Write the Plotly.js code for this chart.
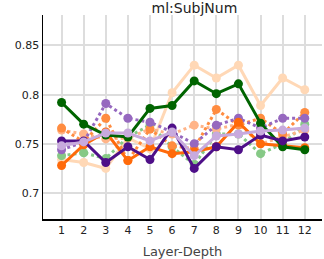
<!DOCTYPE html>
<html><head><meta charset="utf-8">
<script src="https://cdn.plot.ly/plotly-3.0.1.min.js"></script>
<style>html,body{margin:0;padding:0;background:#fff}#c{width:324px;height:259px}</style>
</head><body><div id="c"></div>
<script>
const layers = [1,2,3,4,5,6,7,8,9,10,11,12];
const tickLabels = ["1","2","3","4","5","6","7","8","9","10","11","12"];
const darkGreen   = [0.792,0.770,0.759,0.757,0.786,0.789,0.814,0.801,0.811,0.771,0.747,0.744];
const lightGreen  = [0.738,0.741,0.735,0.757,0.769,0.747,0.729,0.760,0.760,0.740,0.750,0.770];
const darkOrange  = [0.728,0.749,0.762,0.733,0.747,0.740,0.742,0.747,0.772,0.750,0.748,0.746];
const orangeDot   = [0.766,0.752,0.776,0.733,0.765,0.748,0.745,0.785,0.769,0.776,0.760,0.782];
const peachDot    = [0.764,0.760,0.755,0.756,0.765,0.760,0.769,0.765,0.770,0.750,0.757,0.764];
const peach       = [0.734,0.731,0.725,0.756,0.745,0.802,0.830,0.817,0.830,0.789,0.817,0.805];
const purpleDot   = [0.744,0.752,0.791,0.776,0.772,0.762,0.750,0.769,0.776,0.766,0.776,0.776];
const darkPurple  = [0.753,0.753,0.731,0.747,0.734,0.766,0.725,0.747,0.744,0.759,0.753,0.757];
const lightPurple = [0.748,0.752,0.761,0.761,0.753,0.762,0.738,0.758,0.760,0.763,0.764,0.766];

function s(y, color, dash){
  return {x: layers, y: y, type:'scatter', mode:'lines+markers',
    line:{color:color, width:3, dash:dash}, marker:{color:color, size:9}, showlegend:false};
}
const data = [
  s(peach, '#ffd8b6', 'solid'),
  s(lightGreen, '#86c986', 'dot'),
  s(peachDot, '#ffb488', 'dot'),
  s(orangeDot, '#ff8c40', 'dot'),
  s(purpleDot, '#9668bf', 'dot'),
  s(darkOrange, '#ff6a0a', 'solid'),
  s(darkGreen, '#006400', 'solid'),
  s(darkPurple, '#4e0f88', 'solid'),
  s(lightPurple, '#c8aadd', 'solid')
];
const layout = {
  width:324, height:259,
  margin:{l:43, r:2, t:15, b:40},
  paper_bgcolor:'#fff', plot_bgcolor:'#fff',
  font:{family:'DejaVu Sans, Verdana, sans-serif', size:11, color:'#222'},
  title:{text:'ml:SubjNum', x:0.6, xanchor:'center', y:0.988, yanchor:'top', font:{size:14, color:'#222'}},
  xaxis:{range:[0.16,12.78], tickvals:layers, ticktext:tickLabels, showgrid:true, gridcolor:'#dddddd', gridwidth:2,
    showline:true, linecolor:'#000', linewidth:1.5, zeroline:false, ticks:'', 
    title:{text:'Layer-Depth', font:{size:13, color:'#444'}, standoff:11}},
  yaxis:{range:[0.6736,0.881], tickvals:[0.7,0.75,0.8,0.85], ticktext:['0.7','0.75','0.8','0.85'],
    showgrid:true, gridcolor:'#dddddd', gridwidth:2, showline:true, linecolor:'#000', linewidth:1.5, zeroline:false, ticks:''}
};
Plotly.newPlot('c', data, layout, {staticPlot:true, displayModeBar:false});
</script></body></html>
